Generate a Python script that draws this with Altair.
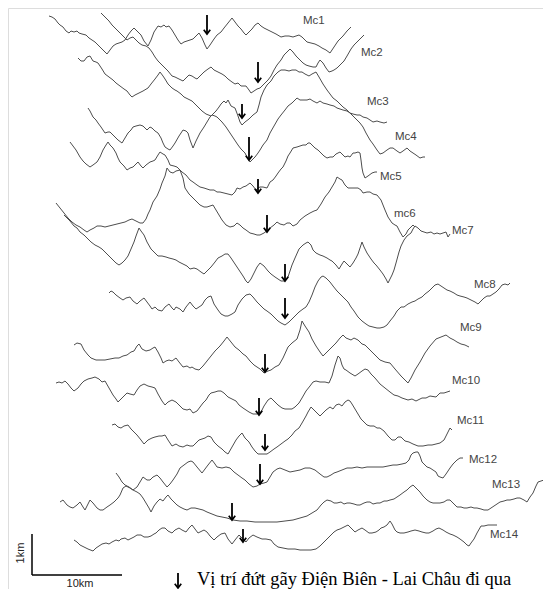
import altair as alt
import pandas as pd

# Topographic profiles (distance, relative height)
MC1 = [(49,16),(52,17),(55,19),(58,23),(60,25),(63,27),(66,31),(69,33),(71,31),(74,32),(77,31),(79,33),(82,34),(86,35),(89,38),(92,40),(95,42),(99,46),(103,50),(107,54),(110,50),(113,46),(116,44),(119,43),(122,42),(125,40),(128,35),(131,31),(134,28),(137,31),(141,35),(144,41),(148,46),(151,40),(154,32),(158,26),(161,27),(164,25),(166,27),(169,26),(172,30),(175,35),(178,40),(181,44),(184,42),(187,41),(190,40),(193,39),(196,36),(199,33),(202,38),(205,45),(207,49),(210,45),(214,39),(217,35),(221,32),(224,28),(228,23),(232,18),(235,22),(238,26),(241,29),(244,33),(246,35),(249,32),(252,29),(255,25),(258,23),(261,26),(264,28),(268,30),(272,32),(276,34),(281,37),(285,36),(289,36),(293,37),(296,36),(299,35),(302,37),(305,40),(307,42),(311,43),(315,44),(319,46),(322,48),(326,50),(330,53),(334,47),(338,41),(343,36),(347,31),(351,27)]
MC2 = [(101,13),(104,16),(107,19),(109,21),(112,25),(116,29),(119,32),(122,35),(125,38),(127,40),(130,38),(133,37),(136,40),(139,43),(142,45),(146,46),(149,48),(152,52),(155,57),(158,61),(162,65),(165,68),(168,71),(172,76),(175,77),(179,79),(183,81),(186,78),(189,75),(192,76),(195,78),(197,79),(200,76),(204,72),(208,69),(211,67),(214,70),(218,72),(222,74),(225,76),(228,79),(232,82),(235,84),(238,83),(241,86),(244,86),(246,86),(249,90),(251,93),(254,91),(257,89),(260,88),(264,84),(268,80),(271,76),(274,70),(277,65),(281,60),(284,55),(287,52),(290,49),(293,52),(296,56),(299,59),(303,63),(306,65),(309,66),(313,67),(316,67),(318,63),(320,60),(323,63),(326,68),(329,72),(332,71),(334,70),(337,68),(340,65),(344,61),(347,56),(351,49),(354,45),(357,42),(360,39),(364,35)]
MC3 = [(78,58),(81,61),(84,61),(87,57),(90,56),(93,61),(96,62),(98,63),(102,69),(105,74),(109,77),(113,80),(116,83),(120,86),(124,89),(127,91),(130,95),(132,97),(135,95),(139,93),(143,91),(148,88),(151,84),(155,79),(158,75),(160,72),(163,76),(165,79),(168,84),(172,88),(175,90),(177,91),(181,94),(184,97),(188,99),(192,101),(195,104),(198,107),(202,111),(206,114),(211,116),(214,113),(216,111),(219,107),(221,104),(224,101),(226,103),(228,100),(231,106),(235,108),(238,116),(240,122),(242,125),(245,122),(249,119),(253,115),(257,112),(259,105),(261,97),(264,90),(267,85),(271,81),(274,76),(278,72),(281,70),(285,70),(289,71),(292,70),(296,70),(299,72),(302,72),(305,74),(309,76),(312,74),(316,72),(319,77),(323,84),(327,90),(330,94),(333,98),(337,101),(340,104),(343,107),(347,110),(350,113),(354,117),(357,120),(360,123),(363,127),(366,133),(370,140),(373,144),(377,150),(380,154),(383,153),(387,150),(390,148),(393,148),(397,151),(400,153),(403,151),(407,148),(410,151),(413,153),(416,155),(420,158),(423,157),(425,157)]
MC4 = [(88,108),(90,111),(93,117),(96,120),(98,123),(101,127),(105,133),(108,132),(110,132),(113,135),(115,137),(118,140),(122,143),(125,138),(128,133),(131,130),(133,127),(136,126),(140,125),(143,126),(147,130),(150,127),(152,128),(155,131),(158,133),(161,138),(163,143),(165,147),(168,149),(170,150),(173,146),(175,143),(179,136),(183,130),(186,131),(188,133),(190,140),(193,148),(196,141),(200,133),(204,127),(207,122),(210,117),(212,115),(215,116),(217,117),(220,120),(222,122),(226,127),(230,133),(234,139),(238,145),(241,149),(245,153),(248,159),(250,162),(253,159),(255,157),(258,153),(260,150),(263,145),(267,140),(270,133),(274,126),(278,119),(281,115),(285,110),(288,106),(292,103),(295,100),(297,98),(300,100),(303,100),(307,100),(310,99),(313,101),(317,103),(320,101),(323,103),(327,104),(330,105),(334,106),(337,108),(340,109),(343,110),(347,111),(350,113),(353,114),(357,115),(360,115),(363,117),(367,118),(370,120),(373,122),(377,121),(380,122),(384,123),(387,122)]
MC5 = [(70,142),(73,146),(76,150),(80,157),(83,161),(86,164),(90,167),(93,165),(97,162),(100,157),(103,150),(106,145),(108,142),(110,145),(113,148),(116,153),(118,158),(120,162),(124,166),(127,170),(130,168),(133,167),(136,164),(138,162),(141,166),(143,168),(146,165),(150,162),(153,161),(155,160),(158,155),(160,152),(163,154),(165,155),(168,160),(170,165),(174,166),(177,167),(180,170),(182,172),(186,175),(190,180),(193,182),(197,185),(200,187),(204,188),(207,189),(210,190),(214,190),(217,192),(220,192),(224,193),(228,194),(232,195),(235,192),(237,188),(240,189),(243,187),(246,186),(250,183),(253,186),(256,190),(258,188),(260,187),(263,187),(267,188),(270,182),(273,180),(276,176),(278,173),(281,169),(283,167),(286,161),(288,156),(290,153),(293,148),(297,147),(300,146),(303,145),(306,145),(308,143),(310,143),(313,146),(315,148),(318,150),(320,152),(324,156),(327,158),(330,157),(333,157),(336,154),(340,152),(343,155),(345,157),(348,156),(350,157),(353,153),(355,153),(358,152),(360,153),(361,160),(362,168),(363,173),(365,178),(368,176),(372,173),(375,172),(377,172)]
MC6 = [(56,203),(60,208),(64,213),(68,218),(72,222),(76,225),(80,227),(84,230),(87,232),(90,230),(94,228),(97,226),(101,226),(105,227),(109,226),(113,225),(117,224),(121,223),(125,222),(129,220),(132,219),(136,221),(140,223),(143,223),(146,219),(148,214),(150,210),(153,202),(157,196),(160,189),(162,183),(165,176),(167,168),(170,172),(173,173),(176,171),(180,170),(183,178),(185,188),(189,194),(193,198),(197,202),(200,205),(204,207),(207,207),(210,206),(213,205),(216,210),(219,215),(222,220),(226,225),(230,227),(234,226),(237,223),(240,225),(243,228),(246,230),(250,233),(254,234),(257,235),(260,235),(264,233),(268,230),(270,228),(274,225),(277,222),(280,224),(284,225),(287,223),(290,223),(293,226),(297,224),(300,220),(305,216),(310,213),(314,211),(317,210),(321,204),(325,197),(329,192),(332,187),(335,182),(337,177),(340,179),(342,180),(345,185),(348,188),(352,188),(355,188),(358,188),(361,190),(363,193),(367,192),(370,192),(373,194),(377,195),(381,200),(385,210),(388,217),(392,223),(395,225),(397,226),(400,232),(403,237),(406,234),(408,230),(411,227),(413,225),(415,227)]
MC7 = [(64,215),(67,218),(70,221),(74,226),(77,228),(80,232),(84,235),(88,239),(91,242),(95,245),(99,247),(102,249),(106,253),(109,256),(113,260),(116,263),(119,265),(122,263),(125,260),(128,256),(131,249),(134,242),(136,236),(139,228),(141,231),(144,235),(147,242),(151,249),(155,253),(158,256),(162,256),(166,257),(169,258),(173,259),(176,260),(179,262),(183,264),(187,266),(190,269),(194,268),(197,269),(201,272),(204,274),(208,270),(211,267),(215,262),(218,258),(222,256),(225,254),(228,254),(231,258),(235,264),(239,270),(243,276),(246,281),(248,283),(251,279),(254,273),(257,267),(260,263),(264,266),(268,271),(271,274),(275,277),(278,279),(281,281),(285,281),(288,277),(290,271),(292,265),(295,258),(299,249),(303,245),(306,243),(308,242),(311,245),(313,250),(316,253),(320,255),(323,256),(327,258),(330,260),(332,261),(336,265),(339,269),(342,264),(344,261),(347,264),(350,267),(353,263),(356,258),(358,254),(360,248),(362,242),(364,247),(367,253),(371,259),(374,263),(376,265),(380,270),(383,274),(386,279),(388,283),(390,279),(392,275),(394,270),(396,263),(399,252),(401,246),(404,240),(407,236),(411,233),(413,229),(415,226),(418,228),(421,231),(424,232),(427,233),(431,232),(434,234),(437,233),(440,234),(443,233),(446,232),(448,237),(450,234)]
MC8 = [(109,293),(111,291),(113,292),(116,295),(120,298),(123,300),(126,298),(130,297),(133,301),(137,304),(140,301),(144,298),(147,302),(150,306),(152,309),(155,307),(158,310),(162,311),(165,307),(169,304),(172,308),(174,310),(176,307),(180,309),(183,312),(186,307),(190,302),(193,306),(196,309),(199,307),(202,305),(205,300),(208,297),(211,296),(214,304),(218,310),(221,314),(225,316),(228,316),(232,314),(235,312),(238,305),(242,299),(246,295),(250,294),(253,297),(257,302),(260,305),(264,309),(267,311),(271,314),(274,317),(278,321),(281,323),(285,325),(289,322),(292,319),(295,316),(299,312),(303,309),(306,307),(309,302),(312,295),(315,287),(318,281),(321,277),(323,276),(326,278),(330,282),(333,286),(337,291),(341,295),(345,299),(348,302),(351,307),(354,311),(358,317),(362,321),(366,324),(369,326),(373,327),(377,328),(380,328),(384,327),(387,325),(390,321),(394,316),(397,311),(401,307),(404,307),(408,304),(412,302),(415,301),(418,299),(422,297),(425,294),(429,291),(432,288),(435,285),(438,284),(441,286),(444,288),(447,290),(450,291),(454,293),(457,295),(460,296),(464,297),(467,298),(471,300),(475,302),(478,304),(481,301),(484,298),(487,296),(490,296),(493,294),(496,292),(499,289),(502,285),(505,284),(508,285),(510,283)]
MC9 = [(74,345),(77,343),(81,344),(84,350),(88,355),(91,358),(96,360),(101,360),(105,360),(110,359),(115,358),(119,358),(123,356),(127,355),(131,352),(134,351),(137,346),(139,344),(142,349),(146,351),(150,350),(153,348),(155,347),(158,352),(161,358),(163,363),(166,361),(169,360),(172,361),(176,358),(179,362),(183,367),(187,366),(190,368),(192,367),(195,369),(199,370),(203,366),(207,361),(211,356),(215,351),(220,346),(224,341),(227,337),(231,342),(235,347),(239,350),(243,354),(246,356),(250,361),(254,365),(257,367),(260,369),(264,373),(268,371),(271,370),(275,367),(279,365),(283,358),(288,347),(292,343),(297,339),(300,330),(302,321),(305,326),(309,332),(312,339),(316,346),(320,352),(323,356),(327,352),(332,347),(336,343),(340,338),(343,335),(346,338),(351,340),(354,338),(358,340),(362,344),(365,345),(369,349),(374,354),(380,360),(385,362),(390,363),(395,369),(401,376),(405,380),(408,383),(411,378),(415,370),(420,362),(425,353),(430,346),(436,339),(441,337),(446,335),(450,338),(454,340),(457,342),(461,344),(465,345),(469,347)]
MC10 = [(56,383),(59,382),(62,383),(65,381),(68,384),(71,388),(74,391),(78,388),(81,384),(84,381),(88,379),(92,378),(95,377),(99,379),(102,382),(105,381),(109,388),(113,395),(116,399),(118,402),(122,398),(127,393),(130,394),(134,395),(137,390),(140,386),(144,384),(148,386),(152,387),(155,388),(158,394),(162,401),(165,405),(168,402),(172,400),(176,402),(180,406),(183,409),(187,410),(190,409),(193,413),(197,411),(200,407),(203,403),(206,400),(209,395),(211,393),(215,392),(218,391),(221,391),(224,393),(228,397),(232,399),(236,401),(239,405),(243,408),(246,410),(249,412),(253,414),(257,414),(261,412),(264,406),(268,400),(271,398),(274,401),(278,405),(282,408),(285,409),(288,409),(292,409),(295,407),(299,403),(302,398),(306,391),(310,386),(313,382),(316,381),(320,382),(325,382),(329,383),(332,376),(335,365),(338,356),(340,358),(342,365),(344,369),(346,370),(350,373),(355,376),(358,374),(362,371),(365,369),(368,370),(371,374),(375,378),(380,384),(385,388),(390,392),(394,395),(398,396),(402,398),(408,400),(412,399),(416,401),(422,398),(426,398),(430,396),(436,397),(440,393),(444,393),(450,391)]
MC11 = [(112,425),(115,424),(118,427),(121,428),(124,426),(128,425),(131,429),(134,432),(137,435),(141,440),(144,444),(148,440),(152,438),(155,437),(159,436),(162,436),(165,435),(168,440),(172,446),(176,444),(179,446),(183,447),(187,445),(190,446),(193,446),(196,443),(199,440),(202,439),(205,438),(208,436),(211,437),(214,442),(218,446),(222,449),(225,452),(228,454),(232,447),(236,440),(239,436),(242,433),(245,438),(249,442),(252,447),(255,451),(258,454),(260,454),(264,454),(267,454),(270,452),(274,449),(277,447),(281,444),(285,441),(288,439),(292,435),(295,431),(299,428),(302,423),(306,416),(308,412),(311,407),(314,410),(317,413),(320,416),(323,413),(326,410),(330,407),(333,409),(336,405),(339,404),(342,406),(345,402),(348,400),(350,401),(352,404),(355,409),(358,414),(361,419),(364,422),(367,425),(370,426),(374,426),(377,428),(380,428),(384,431),(388,436),(392,440),(395,440),(398,437),(401,437),(405,441),(409,442),(413,444),(418,446),(423,446),(428,445),(432,445),(436,444),(440,443),(444,440),(448,432),(450,428),(452,430)]
MC12 = [(60,502),(63,500),(67,505),(70,507),(73,508),(77,505),(80,502),(83,507),(85,510),(88,504),(90,500),(93,503),(97,508),(100,510),(103,510),(107,507),(110,505),(114,502),(118,498),(120,495),(123,488),(126,486),(130,488),(133,490),(137,487),(140,482),(143,477),(147,480),(150,480),(153,477),(157,475),(160,478),(163,482),(167,487),(170,484),(173,480),(177,474),(180,468),(184,465),(188,462),(191,461),(193,462),(197,467),(202,473),(205,469),(208,465),(212,460),(215,464),(217,467),(222,468),(226,467),(230,468),(234,472),(238,475),(242,478),(245,480),(249,484),(253,487),(257,486),(260,484),(264,483),(267,482),(270,477),(273,472),(277,469),(280,468),(285,470),(290,472),(295,471),(300,470),(305,468),(310,468),(315,470),(320,474),(324,477),(327,477),(331,475),(334,473),(337,472),(342,470),(347,468),(352,468),(357,467),(362,468),(367,467),(372,467),(378,467),(383,467),(388,466),(393,465),(397,465),(402,464),(406,463),(409,460),(411,455),(413,453),(416,452),(418,452),(420,456),(422,462),(424,464),(427,467),(430,468),(433,470),(436,472),(438,476),(440,477),(443,478),(446,474),(450,468),(453,464),(457,460),(460,458),(463,458)]
MC13 = [(116,473),(119,477),(122,482),(125,485),(129,487),(133,490),(137,492),(140,494),(143,498),(146,503),(149,508),(151,512),(154,506),(157,502),(160,499),(163,501),(166,497),(168,495),(171,499),(174,502),(177,505),(180,507),(184,509),(187,510),(191,508),(195,508),(199,509),(203,510),(207,512),(212,514),(217,516),(222,517),(227,518),(233,520),(240,521),(247,521),(255,522),(262,522),(270,522),(277,522),(285,521),(293,520),(300,518),(307,516),(312,513),(317,510),(321,505),(324,502),(327,500),(331,501),(334,503),(337,503),(341,502),(344,504),(347,503),(350,503),(354,504),(357,505),(360,505),(364,503),(367,502),(370,502),(373,504),(377,503),(380,503),(384,501),(387,501),(390,500),(394,499),(397,497),(400,495),(404,492),(407,490),(410,487),(413,485),(416,488),(420,492),(423,496),(427,500),(430,502),(433,503),(437,503),(440,503),(444,502),(447,500),(450,500),(454,504),(457,507),(461,507),(464,508),(467,508),(471,507),(474,508),(477,508),(481,509),(484,510),(488,510),(491,508),(494,506),(497,504),(500,502),(504,501),(507,500),(510,500),(514,499),(517,498),(520,498),(524,500),(527,502),(530,497),(533,493),(536,486),(538,482),(541,481),(544,480),(547,478),(550,478)]
MC14 = [(74,540),(77,542),(80,545),(84,547),(88,549),(93,551),(96,548),(99,546),(102,544),(106,543),(109,544),(112,542),(116,540),(119,541),(121,539),(125,538),(128,540),(130,539),(134,537),(137,535),(141,535),(144,537),(148,537),(151,536),(154,534),(156,533),(159,530),(162,528),(165,528),(168,531),(172,533),(175,530),(179,528),(182,530),(186,532),(189,528),(192,525),(195,529),(198,533),(200,532),(204,530),(207,532),(210,536),(214,540),(217,537),(221,534),(225,533),(228,539),(232,544),(235,540),(239,535),(242,538),(246,542),(249,538),(253,535),(257,537),(262,539),(266,539),(271,540),(274,544),(278,547),(283,548),(288,549),(295,549),(300,550),(306,550),(311,550),(316,549),(320,546),(324,542),(327,539),(331,535),(334,532),(337,530),(340,529),(344,527),(348,525),(351,528),(355,532),(358,530),(362,528),(365,530),(369,533),(372,533),(376,532),(379,530),(381,528),(384,527),(387,525),(390,521),(392,524),(395,530),(397,532),(400,533),(404,533),(408,532),(411,531),(415,530),(419,531),(422,532),(426,533),(429,533),(433,531),(436,529),(439,528),(443,530),(446,532),(450,534),(453,535),(457,537),(460,539),(464,542),(467,545),(469,546),(471,543),(474,539),(477,533),(481,526),(484,526),(488,525),(492,525),(497,525)]

PROFILE_NAMES = ["Mc1", "Mc2", "Mc3", "Mc4", "Mc5", "mc6", "Mc7", "Mc8", "Mc9", "Mc10", "Mc11", "Mc12", "Mc13", "Mc14"]
PROFILE_DATA = [MC1, MC2, MC3, MC4, MC5, MC6, MC7, MC8, MC9, MC10, MC11, MC12, MC13, MC14]

# Profile labels
LABEL_X = [303, 361, 367, 395, 380, 394, 452, 474, 460, 452, 457, 469, 492, 490]
LABEL_Y = [21, 53, 102, 137, 177, 214, 231, 285, 328, 381, 421, 460, 485, 535]

# Fault crossing arrows (x, shaft top, tip)
ARROW_X = [207, 258, 242, 249, 258, 267, 285, 285, 265, 259, 265, 260, 232, 243]
ARROW_TOP = [15, 62, 104, 137, 179, 215, 264, 298, 354, 398, 434, 464, 503, 529]
ARROW_TIP = [34, 82, 118, 160, 193, 232, 281, 318, 372, 415, 450, 484, 520, 542]

# Scale bar and legend
SCALE_X = [32, 32]
SCALE_Y = [534, 575]
SCALE_X2 = [32, 122]
SCALE_Y2 = [575, 575]
SCALE_TEXT = ["1km", "10km"]
SCALE_TEXT_X = [21, 80]
SCALE_TEXT_Y = [553, 587]
SCALE_TEXT_ANGLE = [270, 0]
LEGEND_TEXT = "Vị trí đứt gãy Điện Biên - Lai Châu đi qua"
LEGEND_ARROW = (178, 573, 588)
LEGEND_TEXT_POS = (197, 585)

rows = []
for name, pts in zip(PROFILE_NAMES, PROFILE_DATA):
    for i, (d, h) in enumerate(pts):
        rows.append({"profile": name, "i": i, "d": d, "h": h})
prof_df = pd.DataFrame(rows)

lab_df = pd.DataFrame({"name": PROFILE_NAMES, "d": LABEL_X, "h": LABEL_Y})
arr_df = pd.DataFrame({"d": ARROW_X + [LEGEND_ARROW[0]],
                       "h": ARROW_TOP + [LEGEND_ARROW[1]],
                       "h2": ARROW_TIP + [LEGEND_ARROW[2]]})
bar_df = pd.DataFrame({"d": SCALE_X, "h": SCALE_Y, "d2": SCALE_X2, "h2": SCALE_Y2})
st_df = pd.DataFrame({"t": SCALE_TEXT, "d": SCALE_TEXT_X, "h": SCALE_TEXT_Y, "a": SCALE_TEXT_ANGLE})
leg_df = pd.DataFrame({"t": [LEGEND_TEXT], "d": [LEGEND_TEXT_POS[0]], "h": [LEGEND_TEXT_POS[1]]})

xs = alt.Scale(domain=[8, 543], nice=False, zero=False)
ys = alt.Scale(domain=[589, 8], nice=False, zero=False)
X = alt.X("d:Q", scale=xs, axis=None)
Y = alt.Y("h:Q", scale=ys, axis=None)

lines = alt.Chart(prof_df).mark_line(color="#4d4d4d", strokeWidth=1).encode(
    x=X, y=Y, detail="profile:N", order="i:Q")

shafts = alt.Chart(arr_df).mark_rule(color="black", strokeWidth=1.8).encode(
    x=X, y=Y, y2="h2:Q")
heads = alt.Chart(arr_df).mark_point(
    shape="M-1,-1.3L0,0L1,-1.3", size=42, filled=False, color="black", strokeWidth=1.7, opacity=1
).encode(x=X, y=alt.Y("h2:Q", scale=ys, axis=None))

labels = alt.Chart(lab_df).mark_text(
    align="left", baseline="middle", font="Liberation Sans", fontSize=11.5, color="#444444"
).encode(x=X, y=Y, text="name:N")

bars = alt.Chart(bar_df).mark_rule(color="black", strokeWidth=1.5).encode(
    x=X, y=Y, x2="d2:Q", y2="h2:Q")

st1 = alt.Chart(st_df[st_df.a == 270]).mark_text(
    angle=270, align="center", baseline="middle", font="Liberation Sans", fontSize=11, color="#222222"
).encode(x=X, y=Y, text="t:N")
st2 = alt.Chart(st_df[st_df.a == 0]).mark_text(
    align="center", baseline="alphabetic", font="Liberation Sans", fontSize=11, color="#222222"
).encode(x=X, y=Y, text="t:N")

leg = alt.Chart(leg_df).mark_text(
    align="left", baseline="alphabetic", font="Liberation Serif", fontSize=18.5, color="black"
).encode(x=X, y=Y, text="t:N")

chart = alt.layer(lines, shafts, heads, labels, bars, st1, st2, leg).properties(
    width=535, height=581, padding=0, autosize=alt.AutoSizeParams(type="none")
).configure_view(stroke=None).configure(background="white")

chart.save("out.html", embed_options={"renderer": "svg", "actions": False})
